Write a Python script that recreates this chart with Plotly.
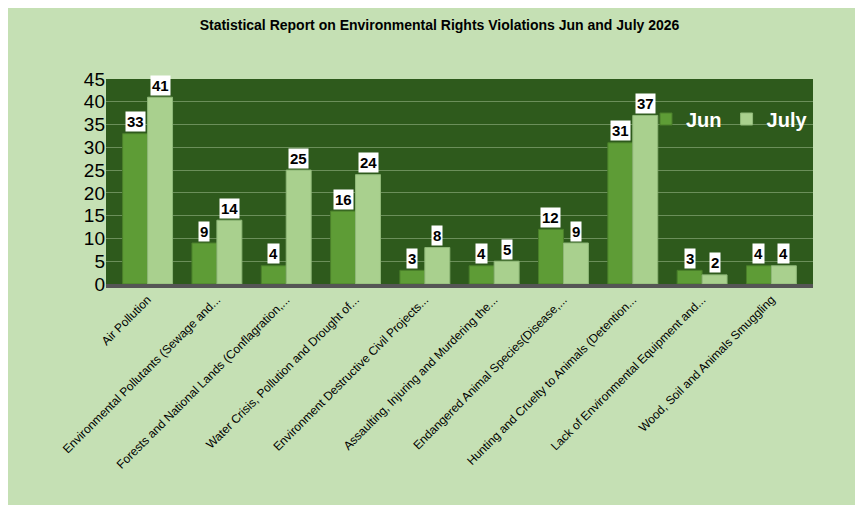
import plotly.graph_objects as go

categories = ["Air Pollution", "Environmental Pollutants (Sewage and...",
              "Forests and National Lands (Conflagration,...", "Water Crisis, Pollution and Drought of...",
              "Environment Destructive Civil Projects...", "Assaulting, Injuring and Murdering the...",
              "Endangered Animal Species(Disease,...", "Hunting and Cruelty to Animals (Detention...",
              "Lack of Environmental Equipment and...", "Wood, Soil and Animals Smuggling"]
jun = [33, 9, 4, 16, 3, 4, 12, 31, 3, 4]
july = [41, 14, 25, 24, 8, 5, 9, 37, 2, 4]

idx = list(range(len(categories)))
xj = [i - 0.18 for i in idx]
xl = [i + 0.18 for i in idx]

fig = go.Figure()
fig.add_bar(x=xj, y=jun, width=0.36, name="<b>Jun</b>", marker=dict(color="#5e9c36", line=dict(color="#4a7f2a", width=1)))
fig.add_bar(x=xl, y=july, width=0.36, name="<b>July</b>", marker=dict(color="#a9d08e", line=dict(color="#8fb878", width=1)))

anns = []
for xs, ys in ((xj, jun), (xl, july)):
    for x, y in zip(xs, ys):
        anns.append(dict(x=x, y=y, text=f"<b>{y}</b>", showarrow=False, yshift=12,
                         bgcolor="white", font=dict(size=15, color="black", family="Liberation Sans"),
                         borderpad=1))

fig.update_layout(
    width=863, height=505, paper_bgcolor="#c5e0b4", plot_bgcolor="#2e5a1c",
    title=dict(text="<b>Statistical Report on Environmental Rights Violations Jun and July 2026</b>",
               x=0.5, xanchor="center", y=0.975, yanchor="top",
               font=dict(size=14, color="black", family="Liberation Sans")),
    margin=dict(l=98, r=58, t=71, b=229), bargap=0.3, showlegend=True,
    annotations=anns,
    legend=dict(x=1.0, y=0.9, xanchor="right", yanchor="top", orientation="h",
                font=dict(size=20, color="white", family="Liberation Sans"), bgcolor="rgba(0,0,0,0)"),
    xaxis=dict(tickvals=idx, ticktext=categories, tickangle=-45, range=[-0.6, 9.6],
               tickfont=dict(size=12, color="black", family="Liberation Sans"), showgrid=False,
               showline=True, linecolor="#555", linewidth=4),
    yaxis=dict(range=[0, 45], dtick=5, gridcolor="#6b8f5a", gridwidth=1,
               tickfont=dict(size=19, color="black", family="Liberation Sans"), zeroline=False),
)
fig.write_html("out.html")
